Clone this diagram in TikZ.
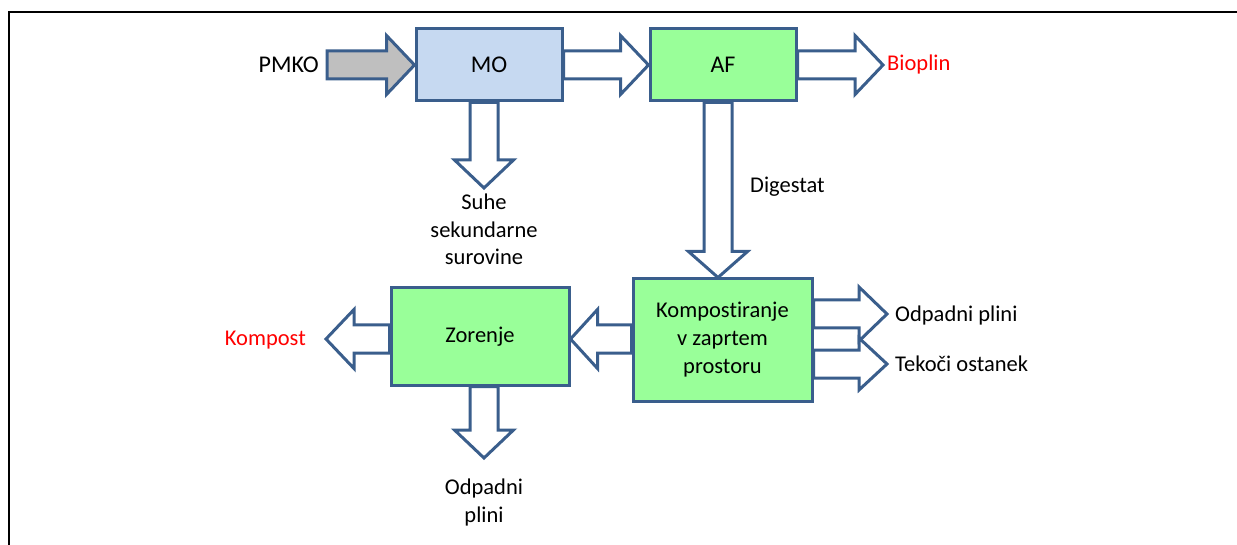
\documentclass[tikz,border=0pt]{standalone}
\usepackage{fontspec}
\setmainfont{Carlito}[Ligatures=NoCommon]
\usetikzlibrary{calc,backgrounds}
\definecolor{edgeblue}{HTML}{3A5E8C}
\definecolor{mofill}{HTML}{C6D9F1}
\definecolor{boxgreen}{HTML}{99FF99}
\definecolor{feedgray}{HTML}{BFBFBF}
\newcommand\bigtxt{\fontsize{24}{29}\selectfont}
\newcommand\smtxt{\fontsize{22.5}{27.5}\selectfont}
\tikzset{
  ba shaft/.store in=\bashaft, ba head/.store in=\bahead, ba len/.store in=\balen,
  ba shaft=14pt, ba head=29.5pt, ba len=28pt,
  % wide hollow block arrow from the start point to the tip
  blockarrow/.style={draw=edgeblue, line width=3pt, fill=white, line join=miter,
    to path={
      ($(\tikztostart)!\bashaft!90:(\tikztotarget)$)
      -- ($(\tikztotarget)!\balen!(\tikztostart)!\bashaft!90:(\tikztotarget)$)
      -- ($(\tikztotarget)!\balen!(\tikztostart)!\bahead!90:(\tikztotarget)$)
      -- (\tikztotarget)
      -- ($(\tikztotarget)!\balen!(\tikztostart)!\bahead!-90:(\tikztotarget)$)
      -- ($(\tikztotarget)!\balen!(\tikztostart)!\bashaft!-90:(\tikztotarget)$)
      -- ($(\tikztostart)!\bashaft!-90:(\tikztotarget)$)
      -- cycle}},
  box/.style={draw=edgeblue, line width=3pt, inner sep=0pt, align=center},
  lbl/.style={inner sep=0pt, align=center, font=\smtxt},
  outred/.style={lbl, text=red}
}
\begin{document}
\begin{tikzpicture}[x=1pt,y=-1pt]
\useasboundingbox (0,0) rectangle (1237,545);

% frame
\draw[line width=2pt] (9.3,545) -- (9.3,12) -- (1237,12);

% process boxes
\node[box, fill=mofill, minimum width=146pt, minimum height=72pt, font=\bigtxt] (mo) at (489,65) {MO};
\node[box, fill=boxgreen, minimum width=146pt, minimum height=72pt, font=\bigtxt] (af) at (723,65) {AF};
\node[box, fill=boxgreen, minimum width=179pt, minimum height=122pt, font=\smtxt,
      execute at begin node={\setlength{\baselineskip}{28pt}}] (kom) at (722.5,340) {Kompostiranje\\v zaprtem\\prostoru};
\node[box, fill=boxgreen, minimum width=178pt, minimum height=97pt, font=\smtxt] (zor) at (480,336.5) {Zorenje};

% inputs and outputs
\node[lbl, font=\bigtxt, anchor=east] (pmko) at (319,65) {PMKO};
\coordinate (pmkotail) at (327,65);
\node[outred, anchor=west, inner xsep=4pt] (bioplin) at (883,65) {Bioplin};
\coordinate (suhetip) at (484,188);
\node[lbl, anchor=north] (suhe) at (484,194) {Suhe\\sekundarne\\surovine};
\coordinate (digx) at (718,0);
\node[lbl, anchor=west] (digestat) at (750,187) {Digestat};
\coordinate (midy) at (0,339);
\coordinate (kompostip) at (326,339);
\node[outred, anchor=east] (kompost) at (306,340) {Kompost};
\coordinate (gastip) at (887,314);
\node[lbl, anchor=west] (gas) at (895,316) {Odpadni plini};
\coordinate (liqtip) at (887,364);
\node[lbl, anchor=west] (liq) at (895,364) {Tekoči ostanek};
\coordinate (zgastip) at (484,458);
\node[lbl, anchor=north] (zgas) at (484,479) {Odpadni\\plini};

% flows
\begin{pgfonlayer}{background}
  \draw[blockarrow, fill=feedgray] (pmkotail) to (mo.west);
  \draw[blockarrow] (mo.east) to (af.west);
  \draw[blockarrow] (af.east) to (bioplin.west);
  \draw[blockarrow] (mo.south -| suhetip) to (suhetip);
  \draw[blockarrow, ba len=26pt] (af.south -| digx) to (kom.north -| digx);
  \draw[blockarrow, ba len=27pt] (kom.west |- midy) to (zor.east |- midy);
  \draw[blockarrow] (zor.west |- midy) to (kompostip);
  \draw[blockarrow, ba head=27pt] (kom.east |- gastip) to (gastip);
  \draw[blockarrow, ba head=26pt] (kom.east |- liqtip) to (liqtip);
  \draw[blockarrow] (zor.south -| zgastip) to (zgastip);
\end{pgfonlayer}
\end{tikzpicture}
\end{document}
